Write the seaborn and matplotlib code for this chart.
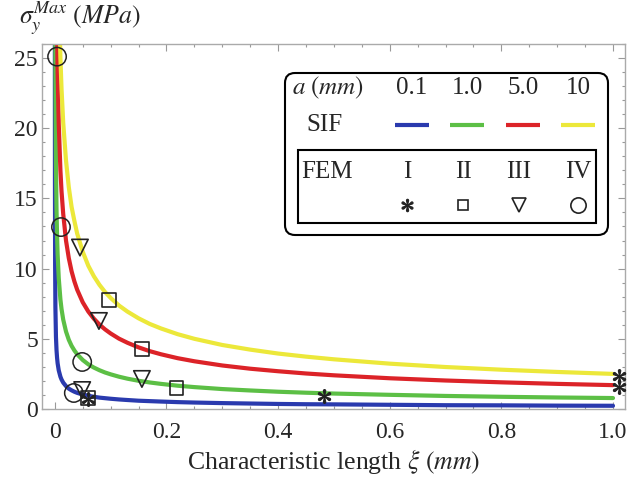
import numpy as np
import pandas as pd
import matplotlib.pyplot as plt
import seaborn as sns
from matplotlib.patches import FancyBboxPatch, Rectangle
from matplotlib.ticker import MultipleLocator

# SIF curves, values
xi = [0.00005, 0.0001, 0.0002, 0.0005, 0.001, 0.002, 0.003, 0.004, 0.005, 0.007, 0.01,
      0.012, 0.015, 0.02, 0.025, 0.03, 0.035, 0.04, 0.05, 0.06, 0.07, 0.08, 0.09, 0.1,
      0.115, 0.13, 0.15, 0.17, 0.19, 0.22, 0.25, 0.3, 0.35, 0.4, 0.45, 0.5, 0.6, 0.7,
      0.8, 0.9, 1.0]
sif_blue = [32.5, 23.0, 16.26, 10.29, 7.27, 5.14, 4.20, 3.64, 3.25, 2.75, 2.30, 2.10, 1.88,
            1.63, 1.45, 1.33, 1.23, 1.15, 1.03, 0.94, 0.87, 0.81, 0.77, 0.73, 0.68, 0.64,
            0.59, 0.56, 0.53, 0.49, 0.46, 0.42, 0.39, 0.36, 0.34, 0.33, 0.30, 0.27, 0.26,
            0.24, 0.23]
sif_green = [110.3, 78.0, 55.2, 34.9, 24.7, 17.4, 14.2, 12.3, 11.0, 9.32, 7.80, 7.12, 6.37,
             5.52, 4.93, 4.50, 4.17, 3.90, 3.49, 3.18, 2.95, 2.76, 2.60, 2.47, 2.30, 2.16,
             2.01, 1.89, 1.79, 1.66, 1.56, 1.42, 1.32, 1.23, 1.16, 1.10, 1.01, 0.93, 0.87,
             0.82, 0.78]
sif_red = [240.4, 170, 120.2, 76.0, 53.8, 38.0, 31.0, 26.9, 24.0, 20.3, 17.0, 15.5, 13.9,
           12.0, 10.75, 9.81, 9.09, 8.50, 7.60, 6.94, 6.43, 6.01, 5.67, 5.38, 5.01, 4.72,
           4.39, 4.12, 3.90, 3.62, 3.40, 3.10, 2.87, 2.69, 2.53, 2.40, 2.19, 2.03, 1.90,
           1.79, 1.70]
sif_yellow = [353.5, 250, 176.8, 111.8, 79.1, 55.9, 45.6, 39.5, 35.4, 29.9, 25.0, 22.8, 20.4,
              17.7, 15.8, 14.4, 13.4, 12.5, 11.2, 10.2, 9.45, 8.84, 8.33, 7.91, 7.37, 6.94,
              6.46, 6.06, 5.74, 5.33, 5.0, 4.56, 4.23, 3.95, 3.73, 3.54, 3.23, 2.99, 2.80,
              2.64, 2.50]
a_labels = ["0.1", "1.0", "5.0", "10"]
sif_colors = ["#2a3aae", "#5cbf45", "#dc2328", "#ece83a"]

# FEM points
fem_I_x = [0.059, 0.482, 1.011, 1.011]
fem_I_y = [0.72, 0.93, 2.32, 1.55]
fem_II_x = [0.059, 0.097, 0.156, 0.218]
fem_II_y = [0.80, 7.76, 4.27, 1.50]
fem_III_x = [0.049, 0.045, 0.079, 0.156]
fem_III_y = [1.35, 11.5, 6.27, 2.14]
fem_IV_x = [0.004, 0.011, 0.049, 0.034]
fem_IV_y = [25.1, 12.96, 3.35, 1.14]
fem_labels = ["I", "II", "III", "IV"]

sns.set_style("ticks")
plt.rcParams["font.family"] = ["Liberation Serif", "DejaVu Serif"]
plt.rcParams["mathtext.fontset"] = "stix"

fig = plt.figure(figsize=(6.3, 4.78), dpi=100)
ax = fig.add_axes([42 / 630, 1 - 409 / 478, (625 - 42) / 630, (409 - 44) / 478])

df = pd.DataFrame({
    "xi": xi * 4,
    "sigma": sif_blue + sif_green + sif_red + sif_yellow,
    "a": sum([[lab] * len(xi) for lab in a_labels], []),
})
sns.lineplot(data=df, x="xi", y="sigma", hue="a", palette=sif_colors, estimator=None,
             sort=False, lw=3, legend=False, ax=ax)

ec = "#222222"
star = r"$\ast$"
sns.scatterplot(x=fem_I_x, y=fem_I_y, marker=star, s=100, color=ec, edgecolor=ec,
                linewidth=0.8, ax=ax, clip_on=False, zorder=5)
sns.scatterplot(x=fem_II_x, y=fem_II_y, marker="s", s=95, facecolor="none", edgecolor=ec,
                linewidth=1.2, ax=ax, clip_on=False, zorder=5)
sns.scatterplot(x=fem_III_x, y=fem_III_y, marker="v", s=140, facecolor="none", edgecolor=ec,
                linewidth=1.2, ax=ax, clip_on=False, zorder=5)
sns.scatterplot(x=fem_IV_x, y=fem_IV_y, marker="o", s=175, facecolor="none", edgecolor=ec,
                linewidth=1.1, ax=ax, clip_on=False, zorder=5)

ax.set_xlim(-0.023, 1.0215)
ax.set_ylim(0, 26)
ax.xaxis.set_minor_locator(MultipleLocator(0.05))
ax.yaxis.set_major_locator(MultipleLocator(5))
ax.yaxis.set_minor_locator(MultipleLocator(1))
ax.set_xticks([0, 0.2, 0.4, 0.6, 0.8, 1.0])
ax.set_xticklabels(["0", "0.2", "0.4", "0.6", "0.8", "1.0"])
ax.tick_params(which="both", direction="in", top=True, right=True, color="#999999",
               labelsize=17, width=0.8)
ax.tick_params(which="major", length=5)
ax.tick_params(which="minor", length=2.5)
ax.tick_params(axis="x", pad=9)
ax.tick_params(axis="y", pad=3)
for s in ax.spines.values():
    s.set_color("#aaaaaa")
    s.set_linewidth(1.0)
ax.set_xlabel("")
ax.set_ylabel("")

# overlay in pixel coordinates for labels and the table legend
ov = fig.add_axes([0, 0, 1, 1], zorder=10)
ov.set_xlim(0, 630)
ov.set_ylim(478, 0)
ov.axis("off")
ov.patch.set_alpha(0)

ov.text(19, 18, r"$\sigma_y^{Max}\ (MPa)$", fontsize=18.5, ha="left", va="center")
ov.text(334, 461, r"Characteristic length $\xi\ (mm)$", fontsize=18.5, ha="center",
        va="center")

ov.add_patch(FancyBboxPatch((285, 73), 323, 162, boxstyle="round,pad=0,rounding_size=10",
                            fc="white", ec="black", lw=1.5))
ov.add_patch(Rectangle((298, 150), 298, 73, fc="none", ec="black", lw=1.5))

cols = [412, 467, 523, 578]
fcols = [407, 463, 519, 578]
fs = 18
ov.text(328, 88, r"$a\ (mm)$", fontsize=fs, ha="center", va="center")
ov.text(325, 125, "SIF", fontsize=fs, ha="center", va="center")
ov.text(327, 172, "FEM", fontsize=fs, ha="center", va="center")
for cx, fx, lab, col, fl in zip(cols, fcols, a_labels, sif_colors, fem_labels):
    ov.text(cx, 88, lab, fontsize=fs, ha="center", va="center")
    ov.plot([cx - 17, cx + 17], [125, 125], color=col, lw=3, solid_capstyle="butt")
    ov.text(fx, 172, fl, fontsize=fs, ha="center", va="center")

mk = [(star, 9, None), ("s", 7.5, "none"), ("v", 10, "none"), ("o", 11, "none")]
for cx, (m, ms, fc) in zip(fcols, mk):
    if fc is None:
        ov.plot([cx], [205], marker=m, ms=ms, color=ec, mec=ec, mew=0.8, ls="none")
    else:
        ov.plot([cx], [205], marker=m, ms=ms, mfc="none", mec=ec, mew=1.2, ls="none")

fig.savefig("out.png", dpi=100)
